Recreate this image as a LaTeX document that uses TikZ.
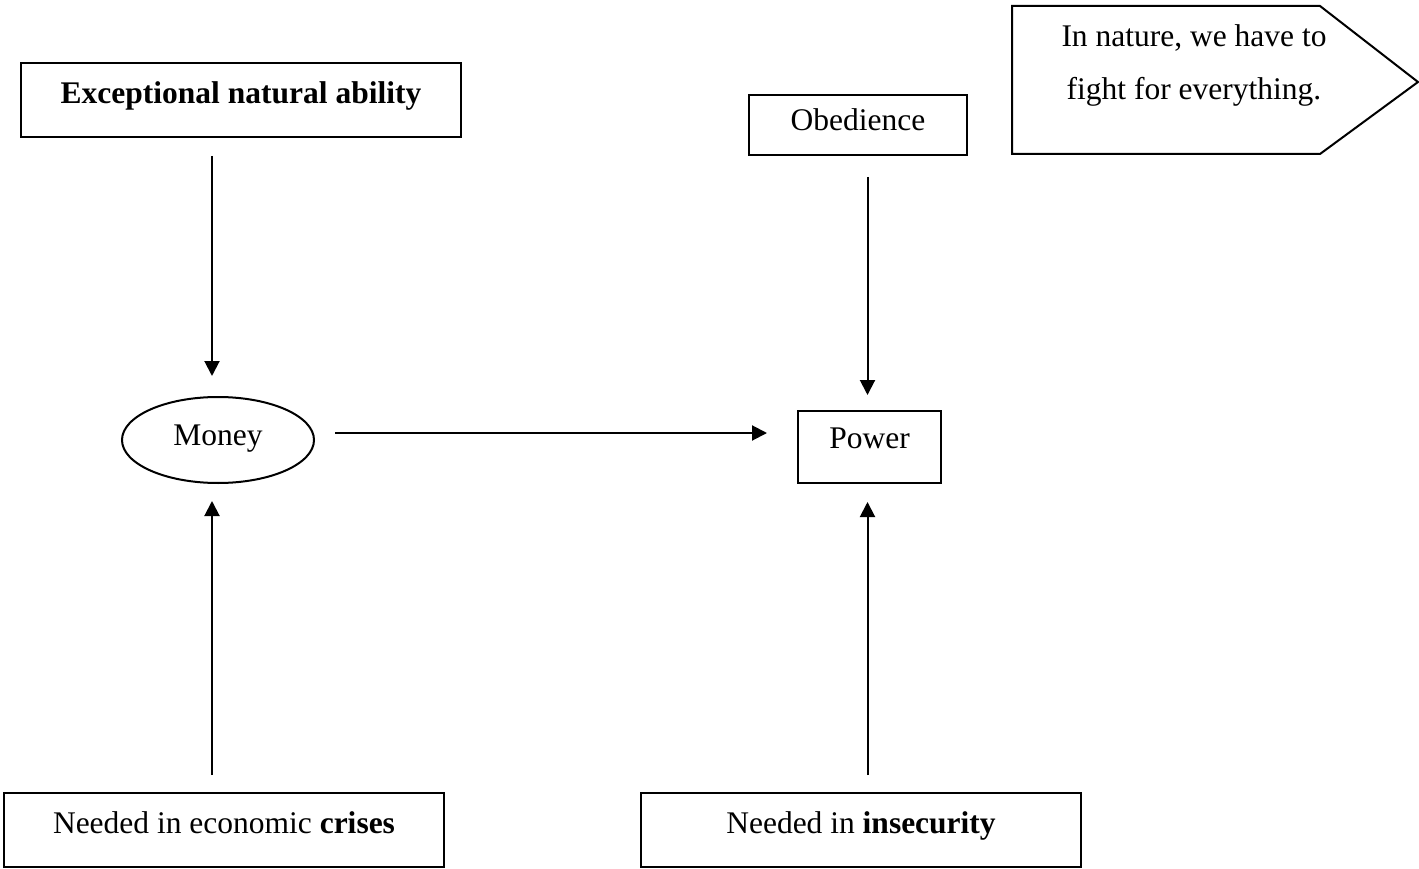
\documentclass[tikz,border=0pt]{standalone}
\usepackage{fontspec}
\setmainfont{Liberation Serif}
\usetikzlibrary{arrows.meta,shapes.geometric}
\begin{document}
\begin{tikzpicture}[x=1pt,y=-1pt,
  every node/.style={font=\fontsize{31.5}{53}\selectfont, inner sep=0pt},
  box/.style={draw, line width=2pt, anchor=north west},
  oval/.style={draw, ellipse, line width=2pt, minimum width=192pt, minimum height=86pt},
  arr/.style={line width=2pt, -{Triangle[length=15pt,width=15pt]}}]
  \useasboundingbox (0,0) rectangle (1419,869);

  % boxes (text height / depth place the baseline)
  \node[box, minimum width=440pt, text height=41pt, text depth=33pt] (ex) at (20,62)
    {\textbf{Exceptional natural ability}};
  \node[box, minimum width=218pt, text height=36pt, text depth=24pt] (ob) at (748,94)
    {Obedience};
  \node[oval, text height=20pt, text depth=10pt] (money) at (218,440) {Money};
  \node[box, minimum width=143pt, text height=37pt, text depth=35pt] (power) at (797,410)
    {Power};
  \node[box, minimum width=440pt, text height=40pt, text depth=34pt] (cr) at (3,792)
    {Needed in economic \textbf{crises}};
  \node[box, minimum width=440pt, text height=40pt, text depth=34pt] (ins) at (640,792)
    {Needed in \textbf{insecurity}};

  % pointed note
  \draw[line width=2pt, line join=miter] (1012,6) -- (1320,6) -- (1418,82) -- (1320,154) -- (1012,154) -- cycle;
  \node[align=center, anchor=base] (note) at (1194,100)
    {In nature, we have to\\fight for everything.};

  % connectors
  \draw[arr, shorten <=18pt, shorten >=20pt]
    ([xshift=-6pt]money.north |- ex.south) -- ([xshift=-6pt]money.north);
  \draw[arr, shorten <=17pt, shorten >=17pt]
    ([xshift=-6pt]money.south |- cr.north) -- ([xshift=-6pt]money.south);
  \draw[arr, shorten <=20pt, shorten >=30pt]
    ([yshift=7pt]money.east) -- ([yshift=7pt]money.east -| power.west);
  \draw[arr, shorten <=21pt, shorten >=15pt]
    ([xshift=-2pt]power.north |- ob.south) -- ([xshift=-2pt]power.north);
  \draw[arr, shorten <=17pt, shorten >=18pt]
    ([xshift=-2pt]power.south |- ins.north) -- ([xshift=-2pt]power.south);
\end{tikzpicture}
\end{document}
